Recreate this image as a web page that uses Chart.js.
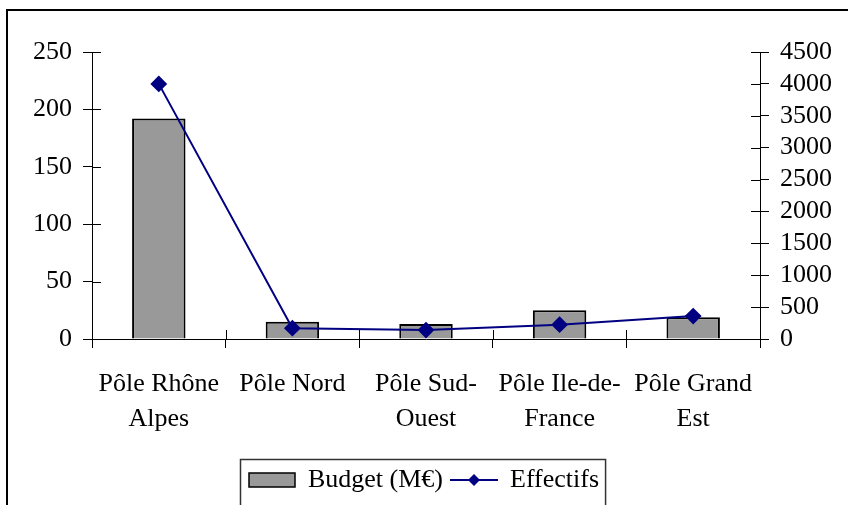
<!DOCTYPE html>
<html>
<head>
<meta charset="utf-8">
<script src="https://cdn.jsdelivr.net/npm/chart.js@4/dist/chart.umd.min.js"></script>
<style>
  html, body { margin: 0; padding: 0; background: #fff; }
  #wrap { width: 848px; height: 505px; position: relative; }
</style>
</head>
<body>
<div id="wrap"><canvas id="myChart" width="848" height="505"></canvas></div>
<script>
// categories and series
const categories = [
    ['Pôle Rhône', 'Alpes'],
    ['Pôle Nord'],
    ['Pôle Sud-', 'Ouest'],
    ['Pôle Ile-de-', 'France'],
    ['Pôle Grand', 'Est']
];
const budget = [192, 15, 13, 25, 19];          // M€, left axis
const effectifs = [4000, 170, 140, 225, 360];  // right axis
const budgetTicks = [0, 50, 100, 150, 200, 250];
const effectifsTicks = [0, 500, 1000, 1500, 2000, 2500, 3000, 3500, 4000, 4500];

const FONT = 'Liberation Serif, "Times New Roman", serif';
const NAVY = '#000080';

// little pictures used as legend symbols
function makeIcon(draw) {
    const c = document.createElement('canvas');
    c.width = 48; c.height = 16;
    draw(c.getContext('2d'));
    return c;
}
const barIcon = makeIcon(ctx => {
    ctx.fillStyle = '#999999';
    ctx.fillRect(1, 1, 46, 14);
    ctx.strokeStyle = '#000';
    ctx.lineWidth = 1.5;
    ctx.strokeRect(1, 1, 46, 14);
});
const lineIcon = makeIcon(ctx => {
    ctx.strokeStyle = NAVY;
    ctx.lineWidth = 2;
    ctx.beginPath(); ctx.moveTo(0, 8); ctx.lineTo(48, 8); ctx.stroke();
    ctx.fillStyle = NAVY;
    ctx.beginPath();
    ctx.moveTo(24, 2); ctx.lineTo(30, 8); ctx.lineTo(24, 14); ctx.lineTo(18, 8);
    ctx.closePath(); ctx.fill();
});

// ticks that cross the axes (Chart.js only draws the outer half)
const crossTicks = {
    id: 'crossTicks',
    afterDraw(chart) {
        const ctx = chart.ctx;
        ctx.save();
        ctx.strokeStyle = '#000';
        ctx.lineWidth = 1;
        ctx.beginPath();
        const yl = chart.scales.y;
        yl.ticks.forEach((t, i) => {
            const p = Math.round(yl.getPixelForTick(i)) + 0.5;
            ctx.moveTo(yl.right, p); ctx.lineTo(yl.right + 9, p);
        });
        const yr = chart.scales.y1;
        yr.ticks.forEach((t, i) => {
            const p = Math.round(yr.getPixelForTick(i)) + 0.5;
            ctx.moveTo(yr.left - 9, p); ctx.lineTo(yr.left, p);
        });
        const x = chart.scales.x;
        const n = x.ticks.length;
        for (let i = 0; i <= n; i++) {
            let p;
            if (i === 0) p = x.left;
            else if (i === n) p = x.right;
            else p = (x.getPixelForTick(i - 1) + x.getPixelForTick(i)) / 2;
            p = Math.round(p) + 0.5;
            ctx.moveTo(p, x.top - 9); ctx.lineTo(p, x.top);
        }
        ctx.stroke();
        ctx.restore();
    }
};

// outer frame and the box round the legend
const frames = {
    id: 'frames',
    afterDraw(chart) {
        const ctx = chart.ctx;
        ctx.save();
        ctx.strokeStyle = '#000';
        ctx.lineWidth = 2;
        ctx.strokeRect(7, 10, chart.width + 20, chart.height + 20);
        const lg = chart.legend;
        const hb = lg.legendHitBoxes;
        if (hb && hb.length) {
            const l = hb[0].left - 9;
            const r = hb[hb.length - 1].left + hb[hb.length - 1].width + 6;
            ctx.strokeStyle = '#333';
            ctx.lineWidth = 1.5;
            ctx.strokeRect(Math.round(l) + 0.5, Math.round(lg.top) + 0.5, r - l, chart.height);
        }
        ctx.restore();
    }
};

const ctx = document.getElementById('myChart').getContext('2d');
new Chart(ctx, {
    data: {
        labels: categories,
        datasets: [{
            type: 'bar',
            label: 'Budget (M€)',
            data: budget,
            yAxisID: 'y',
            backgroundColor: '#999999',
            borderColor: '#000000',
            borderWidth: 2,
            barPercentage: 0.4,
            categoryPercentage: 1,
            order: 1
        }, {
            type: 'line',
            label: 'Effectifs',
            data: effectifs,
            yAxisID: 'y1',
            borderColor: NAVY,
            backgroundColor: NAVY,
            borderWidth: 2,
            pointStyle: 'rectRot',
            pointRadius: 7,
            pointBackgroundColor: NAVY,
            pointBorderColor: NAVY,
            tension: 0,
            order: 0
        }]
    },
    options: {
        responsive: false,
        animation: false,
        layout: { padding: { top: 52, left: 0, right: 0, bottom: 2 } },
        scales: {
            x: {
                grid: { drawOnChartArea: false, tickLength: 9, color: '#000', offset: true },
                border: { color: '#000', width: 1 },
                ticks: { color: '#000', padding: 19, maxRotation: 0, autoSkip: false,
                         font: { family: FONT, size: 26, lineHeight: 1.35 } },
                afterFit: s => { s.height = 120; }
            },
            y: {
                position: 'left',
                min: 0, max: 250,
                afterBuildTicks: s => { s.ticks = budgetTicks.map(v => ({ value: v })); },
                grid: { drawOnChartArea: false, tickLength: 9, color: '#000' },
                border: { color: '#000', width: 1 },
                ticks: { color: '#000', padding: 11, autoSkip: false,
                         callback: v => String(v),
                         font: { family: FONT, size: 26 } },
                afterFit: s => { s.width = 92; }
            },
            y1: {
                position: 'right',
                min: 0, max: 4500,
                afterBuildTicks: s => { s.ticks = effectifsTicks.map(v => ({ value: v })); },
                grid: { drawOnChartArea: false, tickLength: 9, color: '#000' },
                border: { color: '#000', width: 1 },
                ticks: { color: '#000', padding: 11, autoSkip: false,
                         callback: v => String(v),
                         font: { family: FONT, size: 26 } },
                afterFit: s => { s.width = 88; }
            }
        },
        plugins: {
            legend: {
                position: 'bottom',
                labels: {
                    color: '#000',
                    font: { family: FONT, size: 26 },
                    usePointStyle: true,
                    pointStyleWidth: 46,
                    boxHeight: 14,
                    padding: 8,
                    sort: (a, b) => a.datasetIndex - b.datasetIndex,
                    generateLabels: chart => {
                        const items = Chart.defaults.plugins.legend.labels.generateLabels(chart);
                        items.forEach(it => { it.pointStyle = it.datasetIndex === 0 ? barIcon : lineIcon; });
                        return items;
                    }
                }
            },
            tooltip: { enabled: false }
        }
    },
    plugins: [crossTicks, frames]
});
</script>
</body>
</html>
